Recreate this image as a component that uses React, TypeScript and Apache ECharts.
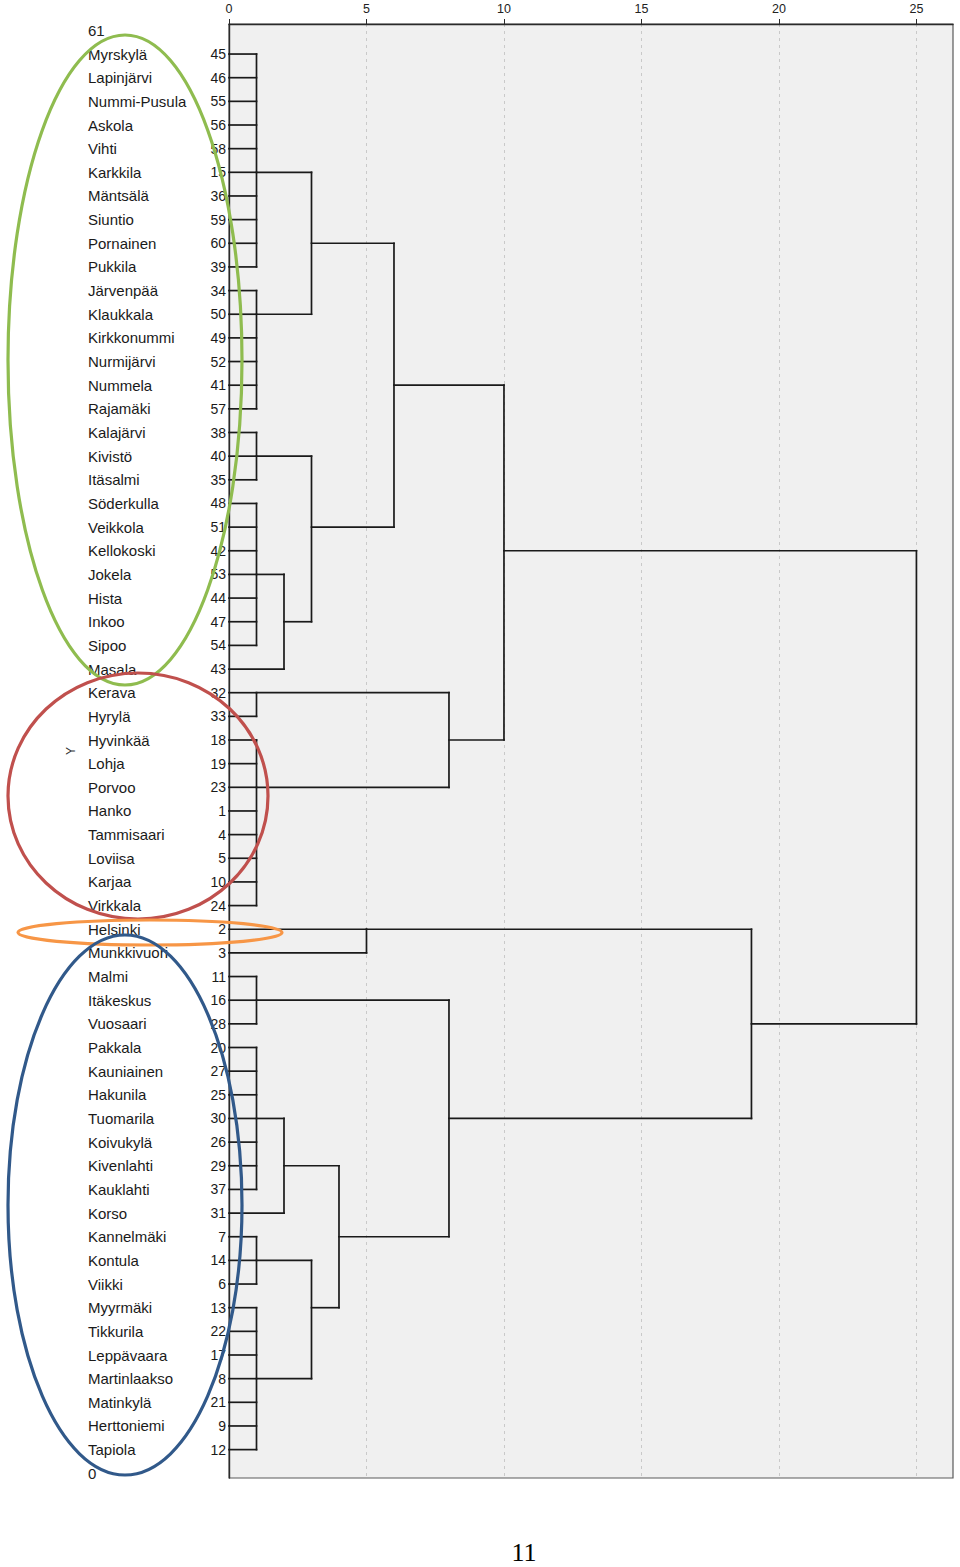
import React, { useEffect, useRef } from "react";
import * as echarts from "echarts";

// Leaves, top to bottom (row 1 .. 60)
const names = [
  "Myrskylä", "Lapinjärvi", "Nummi-Pusula", "Askola", "Vihti", "Karkkila", "Mäntsälä", "Siuntio", "Pornainen", "Pukkila",
  "Järvenpää", "Klaukkala", "Kirkkonummi", "Nurmijärvi", "Nummela", "Rajamäki", "Kalajärvi", "Kivistö", "Itäsalmi", "Söderkulla",
  "Veikkola", "Kellokoski", "Jokela", "Hista", "Inkoo", "Sipoo", "Masala", "Kerava", "Hyrylä", "Hyvinkää",
  "Lohja", "Porvoo", "Hanko", "Tammisaari", "Loviisa", "Karjaa", "Virkkala", "Helsinki", "Munkkivuori", "Malmi",
  "Itäkeskus", "Vuosaari", "Pakkala", "Kauniainen", "Hakunila", "Tuomarila", "Koivukylä", "Kivenlahti", "Kauklahti", "Korso",
  "Kannelmäki", "Kontula", "Viikki", "Myyrmäki", "Tikkurila", "Leppävaara", "Martinlaakso", "Matinkylä", "Herttoniemi", "Tapiola",
];
const caseNumbers = [
  45, 46, 55, 56, 58, 15, 36, 59, 60, 39,
  34, 50, 49, 52, 41, 57, 38, 40, 35, 48,
  51, 42, 53, 44, 47, 54, 43, 32, 33, 18,
  19, 23, 1, 4, 5, 10, 24, 2, 3, 11,
  16, 28, 20, 27, 25, 30, 26, 29, 37, 31,
  7, 14, 6, 13, 22, 17, 8, 21, 9, 12,
];

// Clusters: id, merge height (rescaled distance), row where the cluster's line leaves, children
// children: numbers = leaf rows (1-based, top to bottom), strings = cluster ids
const clusterIds = ["A", "B", "C", "D", "E", "F", "G", "H", "I", "J", "K", "L", "M", "N", "O", "P", "Q", "R", "S", "T", "U", "V", "W"];
const clusterHeights = [1, 1, 3, 1, 1, 2, 3, 6, 1, 1, 8, 10, 5, 1, 1, 2, 1, 1, 3, 4, 8, 19, 25];
const clusterExitRows = [6, 12, 9, 18, 23, 25, 21, 15, 28, 32, 30, 22, 38, 41, 46, 48, 52, 57, 54, 51, 46, 42, 32];
const clusterChildren: (number | string)[][] = [
  [1, 2, 3, 4, 5, 6, 7, 8, 9, 10],
  [11, 12, 13, 14, 15, 16],
  ["A", "B"],
  [17, 18, 19],
  [20, 21, 22, 23, 24, 25, 26],
  ["E", 27],
  ["D", "F"],
  ["C", "G"],
  [28, 29],
  [30, 31, 32, 33, 34, 35, 36, 37],
  ["I", "J"],
  ["H", "K"],
  [38, 39],
  [40, 41, 42],
  [43, 44, 45, 46, 47, 48, 49],
  ["O", 50],
  [51, 52, 53],
  [54, 55, 56, 57, 58, 59, 60],
  ["Q", "R"],
  ["P", "S"],
  ["N", "T"],
  ["M", "U"],
  ["L", "V"],
];

const xTicks = [0, 5, 10, 15, 20, 25];
const yTicks = [0, 61];
const pageNumber = "11";

const rowValue = (r: number) => 61 - r;

function buildSegments() {
  const info: Record<string, { row: number; height: number }> = {};
  const segs: number[][] = [];
  clusterIds.forEach((id, k) => {
    const h = clusterHeights[k];
    const kids = clusterChildren[k].map((c) =>
      typeof c === "number" ? { row: c, height: 0 } : info[c]
    );
    kids.forEach((kid) => segs.push([kid.height, rowValue(kid.row), h, rowValue(kid.row)]));
    const rows = kids.map((kk) => kk.row);
    segs.push([h, rowValue(Math.min(...rows)), h, rowValue(Math.max(...rows))]);
    info[id] = { row: clusterExitRows[k], height: h };
  });
  return segs;
}

const FONT = '"Liberation Sans", Arial, sans-serif';

export default function App() {
  const ref = useRef<HTMLDivElement>(null);
  useEffect(() => {
    if (!ref.current) return;
    const chart = echarts.init(ref.current, undefined, { renderer: "svg" });
    const segments = buildSegments();
    const labelData = names.map((_, i) => [0, rowValue(i + 1), i]);

    chart.setOption({
      animation: false,
      backgroundColor: "#ffffff",
      grid: {
        left: 229,
        right: 7,
        top: 24,
        bottom: 89,
        show: true,
        backgroundColor: "#f0f0f0",
        borderColor: "#5a5a5a",
        borderWidth: 1.2,
      },
      xAxis: {
        type: "value",
        position: "top",
        min: 0,
        max: 26.33,
        interval: 5,
        axisLine: { show: true, onZero: false, lineStyle: { color: "#2a2a2a", width: 1.3 } },
        axisTick: { show: true, length: 5, customValues: xTicks, lineStyle: { color: "#2a2a2a" } },
        axisLabel: {
          customValues: xTicks,
          margin: 9,
          fontSize: 12.5,
          fontFamily: FONT,
          color: "#222",
        },
        splitLine: {
          show: true,
          lineStyle: { color: "#c9c9c9", type: [3, 4], width: 1 },
        },
        z: 1,
      },
      yAxis: {
        type: "value",
        min: -0.2,
        max: 61.27,
        name: "Y",
        nameLocation: "middle",
        nameGap: 146,
        nameRotate: 90,
        nameTextStyle: { fontSize: 12, fontFamily: FONT, color: "#333" },
        axisLine: { show: true, onZero: false, lineStyle: { color: "#2a2a2a", width: 1.4 } },
        axisTick: { show: false },
        splitLine: { show: false },
        axisLabel: {
          customValues: yTicks,
          align: "left",
          margin: 141,
          fontSize: 15,
          fontFamily: FONT,
          color: "#222",
        },
        z: 2,
      },
      series: [
        {
          type: "custom",
          name: "tree",
          data: segments,
          clip: false,
          silent: true,
          renderItem: (params: any, api: any) => {
            const p1 = api.coord([api.value(0), api.value(1)]);
            const p2 = api.coord([api.value(2), api.value(3)]);
            return {
              type: "line",
              shape: { x1: p1[0], y1: p1[1], x2: p2[0], y2: p2[1] },
              style: { stroke: "#1a1a1a", lineWidth: 1.7, lineCap: "square" },
            };
          },
          z: 3,
        },
        {
          type: "custom",
          name: "labels",
          data: labelData,
          clip: false,
          silent: true,
          renderItem: (params: any, api: any) => {
            const idx = api.value(2);
            const p = api.coord([api.value(0), api.value(1)]);
            return {
              type: "group",
              children: [
                {
                  type: "text",
                  x: p[0] - 141,
                  y: p[1],
                  style: {
                    text: names[idx],
                    fill: "#1a1a1a",
                    fontSize: 15,
                    fontFamily: FONT,
                    align: "left",
                    verticalAlign: "middle",
                  },
                },
                {
                  type: "text",
                  x: p[0] - 3,
                  y: p[1],
                  style: {
                    text: String(caseNumbers[idx]),
                    fill: "#1a1a1a",
                    fontSize: 14,
                    fontFamily: FONT,
                    align: "right",
                    verticalAlign: "middle",
                  },
                },
              ],
            };
          },
          z: 4,
        },
      ],
      graphic: [
        {
          type: "ellipse",
          x: 125,
          y: 360,
          shape: { cx: 0, cy: 0, rx: 117, ry: 325 },
          style: { fill: "none", stroke: "#8fbc4f", lineWidth: 3.2 },
          z: 100,
        },
        {
          type: "ellipse",
          x: 138,
          y: 796,
          shape: { cx: 0, cy: 0, rx: 130, ry: 123 },
          style: { fill: "none", stroke: "#c0504d", lineWidth: 3.2 },
          z: 100,
        },
        {
          type: "ellipse",
          x: 150,
          y: 932.5,
          shape: { cx: 0, cy: 0, rx: 132, ry: 12.5 },
          style: { fill: "none", stroke: "#f79646", lineWidth: 3.2 },
          z: 100,
        },
        {
          type: "ellipse",
          x: 125,
          y: 1205,
          shape: { cx: 0, cy: 0, rx: 117, ry: 270 },
          style: { fill: "none", stroke: "#31598a", lineWidth: 3.2 },
          z: 100,
        },
        {
          type: "text",
          x: 524,
          y: 1552,
          style: {
            text: pageNumber,
            fill: "#000",
            fontSize: 26,
            fontFamily: '"Liberation Serif", "Times New Roman", serif',
            align: "center",
            verticalAlign: "middle",
          },
          z: 100,
        },
      ],
    });
    return () => chart.dispose();
  }, []);

  return (
    <div
      ref={ref}
      style={{ position: "absolute", left: 0, top: 0, width: 960, height: 1567, background: "#fff" }}
    />
  );
}
